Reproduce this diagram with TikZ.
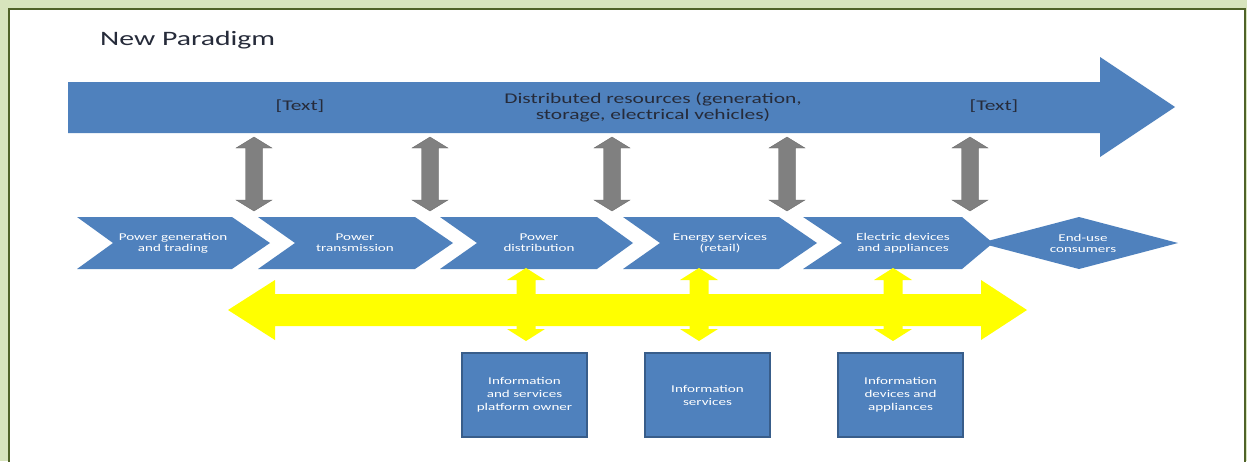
\documentclass[tikz,border=0pt]{standalone}
\usepackage{fontspec}
\setmainfont{Carlito}
\newfontfamily\wf{Carlito}[FakeStretch=1.45]
\definecolor{bgreen}{HTML}{D7E4BD}
\definecolor{dgreen}{HTML}{4F6228}
\definecolor{oblue}{HTML}{4F81BD}
\definecolor{oblueedge}{HTML}{385D8A}
\definecolor{darr}{HTML}{808080}
\definecolor{ytext}{HTML}{262B3A}
\definecolor{yel}{HTML}{FFFF00}
\tikzset{
  blockblue/.style={fill=oblue,draw=none},
  chevtext/.style={text=white,align=center,inner sep=0pt,font=\wf\fontsize{10.4}{11}\selectfont},
  arrtext/.style={text=ytext,align=center,inner sep=0pt,font=\wf\fontsize{14.8}{16.7}\selectfont},
  infobox/.style={rectangle,fill=oblue,draw=oblueedge,line width=1.6pt,minimum width=125pt,minimum height=84pt,inner sep=0pt,text=white,align=center,font=\wf\fontsize{10.4}{13}\selectfont},
  grayarr/.style={fill=darr,draw=darr!80!black,line width=0.3pt},
  yelarr/.style={fill=yel,draw=none},
}
% vertical double arrow: x, ytop, ybottom, shaft half width, head half width, head length
\newcommand\vdarr[7]{%
  \path[#7] (#1,#2) -- (#1+#5,#2+#6) -- (#1+#4,#2+#6) -- (#1+#4,#3-#6) -- (#1+#5,#3-#6)
    -- (#1,#3) -- (#1-#5,#3-#6) -- (#1-#4,#3-#6) -- (#1-#4,#2+#6) -- (#1-#5,#2+#6) -- cycle;}
% chevron: left, corner, tip, notch depth
\newcommand\chev[4]{%
  \path[blockblue] (#1,217) -- (#2,217) -- (#3,243) -- (#2,269) -- (#1,269) -- (#1+#4,243) -- cycle;}
\begin{document}
\begin{tikzpicture}[x=1pt,y=-1pt]
\useasboundingbox (0,0) rectangle (1247,461);
\fill[bgreen] (0,0) rectangle (1247,461);
\filldraw[fill=white,draw=dgreen,line width=2pt] (9,9) rectangle (1245,475);

% title
\node[anchor=base west,inner sep=0pt,text=ytext,font=\wf\fontsize{20.5}{24}\selectfont] (title) at (100,45) {New Paradigm};

% big arrow
\path[blockblue] (68,82) -- (1100,82) -- (1100,57) -- (1175,107) -- (1100,157) -- (1100,133) -- (68,133) -- cycle;
\node[arrtext] (t1) at (300,106) {[Text]};
\node[arrtext] (t2) at (653,107.5) {Distributed resources (generation,\\storage, electrical vehicles)};
\node[arrtext] (t3) at (994,106) {[Text]};

% gray double arrows
\foreach \x in {254,430,612,787,970} {\vdarr{\x}{137}{211}{8.5}{18}{11}{grayarr}}

% chevrons
\chev{77}{232}{270}{36}
\chev{258}{415}{453}{37}
\chev{440}{597}{633}{37}
\chev{623}{779}{817}{37}
\chev{803}{962}{993}{39}
\path[blockblue] (980,243) -- (1079,217) -- (1178,243) -- (1079,269) -- cycle;

\node[chevtext] (c1) at (173,243) {Power generation\\and trading};
\node[chevtext] (c2) at (355,243) {Power\\transmission};
\node[chevtext] (c3) at (539,243) {Power\\distribution};
\node[chevtext] (c4) at (720,243) {Energy services\\(retail)};
\node[chevtext] (c5) at (903,243) {Electric devices\\and appliances};
\node[chevtext] (c6) at (1083,243) {End-use\\consumers};

% yellow horizontal double arrow
\path[yelarr] (228,310) -- (275,280) -- (275,294) -- (981,294) -- (981,280) -- (1027,310)
  -- (981,340) -- (981,326) -- (275,326) -- (275,340) -- cycle;
% yellow vertical double arrows
\foreach \x in {526,699,893} {\vdarr{\x}{268}{341}{9.5}{19}{12}{yelarr}}

% info boxes
\node[infobox] (b1) at (524.5,395) {Information\\and services\\platform owner};
\node[infobox] (b2) at (707.5,395) {Information\\services};
\node[infobox] (b3) at (900.5,395) {Information\\devices and\\appliances};
\end{tikzpicture}
\end{document}
